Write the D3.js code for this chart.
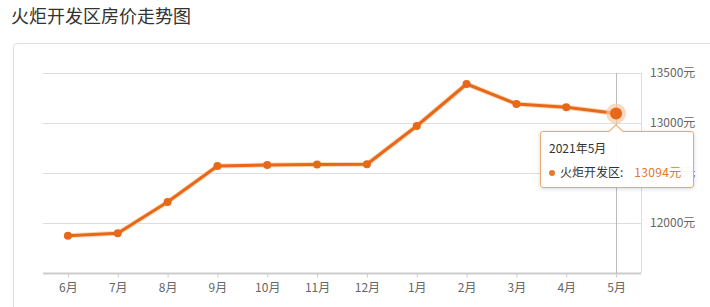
<!DOCTYPE html>
<html lang="zh">
<head>
<meta charset="UTF-8">
<title>火炬开发区房价走势图</title>
<style>
  body { margin: 0; background: #fff; font-family: "Noto Sans CJK SC", "Noto Sans", sans-serif; }
  #chart { position: relative; width: 710px; height: 307px; overflow: hidden; }
  .title { position: absolute; left: 11px; top: 2px; font-size: 18px; color: #333; }
  .card { position: absolute; left: 13px; top: 43px; width: 720px; height: 300px;
          border: 1px solid #ddd; border-radius: 4px; box-sizing: border-box; }
  svg { position: absolute; left: 0; top: 0; }
  .tip { position: absolute; left: 540px; top: 131px; width: 154px; height: 57px;
         box-sizing: border-box; border: 1px solid #eaa86c; border-radius: 3px;
         background: rgba(255,255,255,0.95); box-shadow: 0 1px 4px rgba(0,0,0,0.15);
         font-size: 12px; color: #333; }
  .tip .t1 { position: absolute; left: 8px; top: 7px; }
  .tip .t2 { position: absolute; left: 8px; top: 31px; white-space: nowrap; }
  .tip .dot { display: inline-block; width: 6px; height: 6px; border-radius: 50%;
              background: #e9782b; margin-right: 5px; vertical-align: 1px; }
  .tip .val { color: #e0782e; margin-left: 11px; letter-spacing: 0.3px; }
  .tip .arrow { position: absolute; left: 70px; top: -6px; width: 9px; height: 9px;
                background: #fff; border-left: 1px solid #eaa86c; border-top: 1px solid #eaa86c;
                transform: rotate(45deg); }
</style>
</head>
<body>
<div id="chart">
  <div class="title">火炬开发区房价走势图</div>
  <div class="card"></div>
</div>
<script src="https://cdnjs.cloudflare.com/ajax/libs/d3/7.8.5/d3.min.js"></script>
<script>
  // data
  const months = ["6月", "7月", "8月", "9月", "10月", "11月", "12月", "1月", "2月", "3月", "4月", "5月"];
  const prices = [11873, 11897, 12210, 12570, 12580, 12585, 12587, 12970, 13390, 13190, 13157, 13094];
  const yTicks = [11500, 12000, 12500, 13000, 13500];
  const hoverIndex = 11;
  const tipTitle = "2021年5月";
  const seriesName = "火炬开发区";

  const plotLeft = 43, plotRight = 641, plotTop = 73, plotBottom = 273;
  const orange = "#e8681a";

  const svg = d3.select("#chart").append("svg")
      .attr("width", 710).attr("height", 307);

  const x = d3.scalePoint().domain(months).range([plotLeft, plotRight]).padding(0.5);
  const y = d3.scaleLinear().domain([11500, 13500]).range([plotBottom, plotTop]);

  // horizontal grid
  svg.append("g").selectAll("line")
    .data(yTicks.filter(d => d > 11500))
    .join("line")
      .attr("x1", plotLeft).attr("x2", plotRight)
      .attr("y1", d => Math.round(y(d)) + 0.5).attr("y2", d => Math.round(y(d)) + 0.5)
      .attr("stroke", "#ddd");

  // right border line
  svg.append("line")
      .attr("x1", plotRight + 0.5).attr("x2", plotRight + 0.5)
      .attr("y1", plotTop).attr("y2", plotBottom)
      .attr("stroke", "#ddd");

  // y labels on the right (12500 sits under the tooltip, as in the original)
  svg.append("g").selectAll("text")
    .data(yTicks.filter(d => d > 11500))
    .join("text")
      .attr("x", 650).attr("y", d => y(d) + 4)
      .attr("font-size", 12).attr("fill", "#666")
      .text(d => d + "元");

  // x axis
  const xAxis = svg.append("g")
      .attr("transform", `translate(0,${Math.round(plotBottom) + 0.5})`)
      .call(d3.axisBottom(x).tickSize(4).tickPadding(6).tickSizeOuter(0));
  xAxis.select(".domain").attr("stroke", "#ccc").attr("stroke-width", 2)
      .attr("d", `M${plotLeft},0H${plotRight}`);
  xAxis.selectAll(".tick line").attr("stroke", "#ccc");
  xAxis.selectAll(".tick text").attr("fill", "#666").attr("font-size", 12)
      .attr("font-family", "Noto Sans CJK SC");

  // crosshair
  svg.append("line")
      .attr("x1", Math.round(x(months[hoverIndex])) + 0.5)
      .attr("x2", Math.round(x(months[hoverIndex])) + 0.5)
      .attr("y1", plotTop).attr("y2", plotBottom)
      .attr("stroke", "#bbb");

  // line
  const line = d3.line().x((d, i) => x(months[i])).y(d => y(d));
  svg.append("path").datum(prices)
      .attr("d", line).attr("fill", "none")
      .attr("stroke", "#fbd9b8").attr("stroke-width", 5).attr("stroke-linejoin", "round");
  svg.append("path").datum(prices)
      .attr("d", line).attr("fill", "none")
      .attr("stroke", orange).attr("stroke-width", 3).attr("stroke-linejoin", "round");

  svg.append("g").selectAll("circle")
    .data(prices)
    .join("circle")
      .attr("cx", (d, i) => x(months[i])).attr("cy", d => y(d))
      .attr("r", 4).attr("fill", orange);

  // hovered point
  const hx = x(months[hoverIndex]), hy = y(prices[hoverIndex]);
  svg.append("circle").attr("cx", hx).attr("cy", hy).attr("r", 10)
      .attr("fill", "#f6c9a4").attr("opacity", 0.7);
  svg.append("circle").attr("cx", hx).attr("cy", hy).attr("r", 6).attr("fill", orange);

  // tooltip
  const tip = d3.select("#chart").append("div").attr("class", "tip");
  tip.append("div").attr("class", "arrow");
  tip.append("div").attr("class", "t1").text(tipTitle);
  const t2 = tip.append("div").attr("class", "t2");
  t2.append("span").attr("class", "dot");
  t2.append("span").text(seriesName + ":");
  t2.append("span").attr("class", "val").text(prices[hoverIndex] + "元");
</script>
</body>
</html>
